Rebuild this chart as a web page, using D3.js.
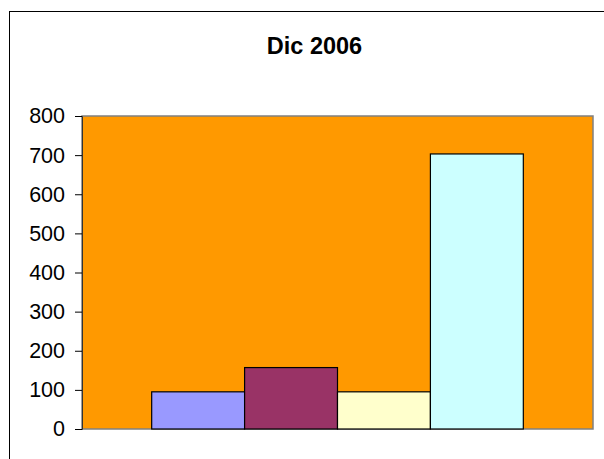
<!DOCTYPE html>
<html>
<head>
<meta charset="utf-8">
<script src="https://cdn.jsdelivr.net/npm/d3@7"></script>
<style>
  body { margin: 0; background: #fff; }
  text { font-family: "Liberation Sans", Arial, sans-serif; }
</style>
</head>
<body>
<div id="chart"></div>
<script>
// chart data
var categories = ["Dic 2006"];
var series = ["Serie 1", "Serie 2", "Serie 3", "Serie 4"];
var values = [95, 157, 95, 703];
var seriesColors = ["#9999FF", "#993366", "#FFFFCC", "#CCFFFF"];
var tickValues = [0, 100, 200, 300, 400, 500, 600, 700, 800];

var width = 604, height = 459;
var plot = { left: 82, top: 116, right: 593, bottom: 429 };

var svg = d3.select("#chart")
    .append("svg")
    .attr("width", width)
    .attr("height", height);

// outer chart frame (runs off the picture on right and bottom)
svg.append("rect")
    .attr("x", 9.5)
    .attr("y", 11.5)
    .attr("width", 640)
    .attr("height", 500)
    .attr("fill", "#fff")
    .attr("stroke", "#000")
    .attr("stroke-width", 1);

// title
svg.append("text")
    .attr("x", 314.5)
    .attr("y", 53.5)
    .attr("text-anchor", "middle")
    .attr("font-size", "23.5px")
    .attr("font-weight", "bold")
    .text(categories[0]);

var y = d3.scaleLinear()
    .domain([0, 800])
    .range([plot.bottom, plot.top]);

var x0 = d3.scaleBand()
    .domain(categories)
    .range([plot.left, plot.right])
    .paddingInner(0)
    .paddingOuter(0.1875);

var x1 = d3.scaleBand()
    .domain(series)
    .range([0, x0.bandwidth()]);

// plot area background
svg.append("rect")
    .attr("x", plot.left)
    .attr("y", plot.top)
    .attr("width", plot.right - plot.left)
    .attr("height", plot.bottom - plot.top)
    .attr("fill", "#FF9900")
    .attr("stroke", "#808080")
    .attr("stroke-width", 1.5);

// bars
var g = svg.append("g")
    .attr("transform", "translate(" + x0(categories[0]) + ",0)");

g.selectAll("rect.bar")
    .data(values)
    .enter()
    .append("rect")
    .attr("class", "bar")
    .attr("x", function(d, i) { return x1(series[i]); })
    .attr("y", function(d) { return y(d); })
    .attr("width", x1.bandwidth())
    .attr("height", function(d) { return y(0) - y(d); })
    .attr("fill", function(d, i) { return seriesColors[i]; })
    .attr("stroke", "#000")
    .attr("stroke-width", 1.2);

// y axis
var axis = svg.append("g")
    .attr("transform", "translate(" + plot.left + ",0)")
    .call(d3.axisLeft(y)
        .tickValues(tickValues)
        .tickSize(7)
        .tickPadding(10)
        .tickFormat(d3.format("d")));

axis.select(".domain")
    .attr("stroke", "#333");

axis.selectAll(".tick line")
    .attr("stroke", "#000");

axis.selectAll(".tick text")
    .attr("font-size", "21.5px")
    .attr("font-family", "'Liberation Sans', Arial, sans-serif")
    .attr("fill", "#000");
</script>
</body>
</html>
